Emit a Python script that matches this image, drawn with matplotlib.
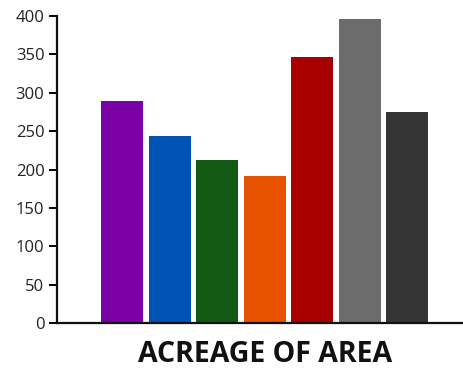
import matplotlib
matplotlib.use("Agg")
import matplotlib.pyplot as plt

# Acreage per area
areas = ["A", "B", "C", "D", "E", "F", "G"]
acreage = [289, 243, 213, 191, 346, 396, 275]
colors = ["#7B00A6", "#0052B4", "#125A14", "#E65200", "#A80000", "#6C6C6C", "#353535"]
yticks = [0, 50, 100, 150, 200, 250, 300, 350, 400]

plt.rcParams["font.family"] = ["Open Sans", "DejaVu Sans"]

fig = plt.figure(figsize=(4.64, 3.69), dpi=100)
ax = fig.add_axes([57 / 464, 46 / 369, 407 / 464, 307 / 369])

x = list(range(len(areas)))
ax.bar(x, acreage, width=0.885, color=colors, edgecolor="none")

ax.set_ylim(0, 400)
ax.set_xlim(-1.37, 7.2)
ax.set_yticks(yticks)
ax.set_xticks([])

for side in ("top", "right"):
    ax.spines[side].set_visible(False)
for side in ("left", "bottom"):
    ax.spines[side].set_linewidth(1.6)
    ax.spines[side].set_color("#111111")

ax.tick_params(axis="y", direction="out", length=6, width=1.4,
               labelsize=12, labelcolor="#222222", pad=3)

fig.text(265 / 464, 15 / 369, "ACREAGE OF AREA", ha="center", va="center",
         fontsize=20.5, fontweight="bold", color="#111111")

fig.savefig("out.png", dpi=100)
